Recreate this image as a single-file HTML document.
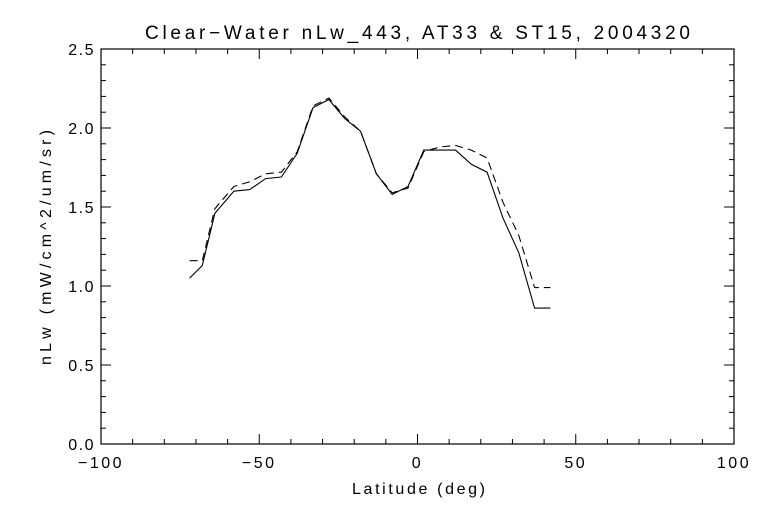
<!DOCTYPE html>
<html><head><meta charset="utf-8">
<style>
html,body{margin:0;padding:0;background:#fff;}
svg{display:block;font-family:"Liberation Sans",sans-serif;}
text{fill:#000;font-weight:300;}
</style></head>
<body>
<svg id="chart" width="768" height="512" viewBox="0 0 768 512" xmlns="http://www.w3.org/2000/svg">
<rect width="768" height="512" fill="#fff"/>
<text x="145" y="39" font-size="19" textLength="545" lengthAdjust="spacing">Clear−Water nLw_443, AT33 &amp; ST15, 2004320</text>
<text x="352" y="494" font-size="16" textLength="133" lengthAdjust="spacing">Latitude (deg)</text>
<text transform="translate(51,365) rotate(-90)" font-size="16" textLength="235" lengthAdjust="spacing">nLw (mW/cm^2/um/sr)</text>
<rect x="101" y="49" width="633" height="395" fill="none" stroke="#000" stroke-width="1.2"/>
<g id="axes"></g>
<g id="series"></g>
</svg>
<script>
const xTicks = [-100, -50, 0, 50, 100];
const yTicks = [0.0, 0.5, 1.0, 1.5, 2.0, 2.5];
const latitudes = [-72,-68,-64,-58,-53,-48,-43,-38,-33,-28,-23,-18,-13,-8,-3,2,7,12,17,22,27,32,37,42];
const at33 = [1.05,1.13,1.46,1.60,1.61,1.68,1.69,1.84,2.13,2.18,2.06,1.98,1.71,1.58,1.63,1.86,1.86,1.86,1.77,1.72,1.43,1.21,0.86,0.86];
const st15 = [1.16,1.16,1.49,1.63,1.66,1.71,1.72,1.85,2.14,2.19,2.07,1.98,1.71,1.59,1.62,1.85,1.88,1.89,1.86,1.81,1.53,1.32,0.99,0.99];

const L=101,R=734,T=49,B=444;
const xMin=-100,xMax=100,yMin=0,yMax=2.5;
function sx(v){return L+(v-xMin)/(xMax-xMin)*(R-L);}
function sy(v){return B-(v-yMin)/(yMax-yMin)*(B-T);}
const NS='http://www.w3.org/2000/svg';
const axes=document.getElementById('axes');
const series=document.getElementById('series');
function line(x1,y1,x2,y2,parent){
  const l=document.createElementNS(NS,'line');
  l.setAttribute('x1',x1);l.setAttribute('y1',y1);l.setAttribute('x2',x2);l.setAttribute('y2',y2);
  l.setAttribute('stroke','#000');l.setAttribute('stroke-width','1');
  parent.appendChild(l);return l;
}
for(let v=xMin; v<=xMax; v+=10){
  const major = v%50===0;
  const len = major?10:5;
  const x=sx(v);
  const t1=line(x,B,x,B-len,axes);
  
  
  const t2=line(x,T,x,T+len,axes);
  
  
}
xTicks.forEach(v=>{
  const t=document.createElementNS(NS,'text');
  t.setAttribute('x',sx(v));t.setAttribute('y',B+24);
  t.setAttribute('text-anchor','middle');t.setAttribute('font-size','16');
  t.setAttribute('letter-spacing','2.5');
  t.textContent = v<0 ? '−'+Math.abs(v) : String(v);
  
  
  axes.appendChild(t);
});
for(let i=0;i<=25;i++){
  const v=i/10;
  const major = i%5===0;
  const len = major?10:5;
  const y=sy(v);
  const t1=line(L,y,L+len,y,axes);
  
  
  const t2=line(R,y,R-len,y,axes);
  
  
}
yTicks.forEach(v=>{
  const t=document.createElementNS(NS,'text');
  t.setAttribute('x',L-6);t.setAttribute('y',sy(v)+6);
  t.setAttribute('text-anchor','end');t.setAttribute('font-size','16');
  t.setAttribute('letter-spacing','1.5');
  t.textContent=v.toFixed(1);
  
  
  axes.appendChild(t);
});
function path(vals,dash,name){
  const p=document.createElementNS(NS,'polyline');
  p.setAttribute('points',latitudes.map((x,i)=>sx(x).toFixed(1)+','+sy(vals[i]).toFixed(1)).join(' '));
  p.setAttribute('fill','none');p.setAttribute('stroke','#000');p.setAttribute('stroke-width','1.1');
  if(dash)p.setAttribute('stroke-dasharray',dash);
  
  
  series.appendChild(p);
}
path(st15,'8,5','st15-dashed-line');
path(at33,null,'at33-solid-line');
</script>
</body></html>
